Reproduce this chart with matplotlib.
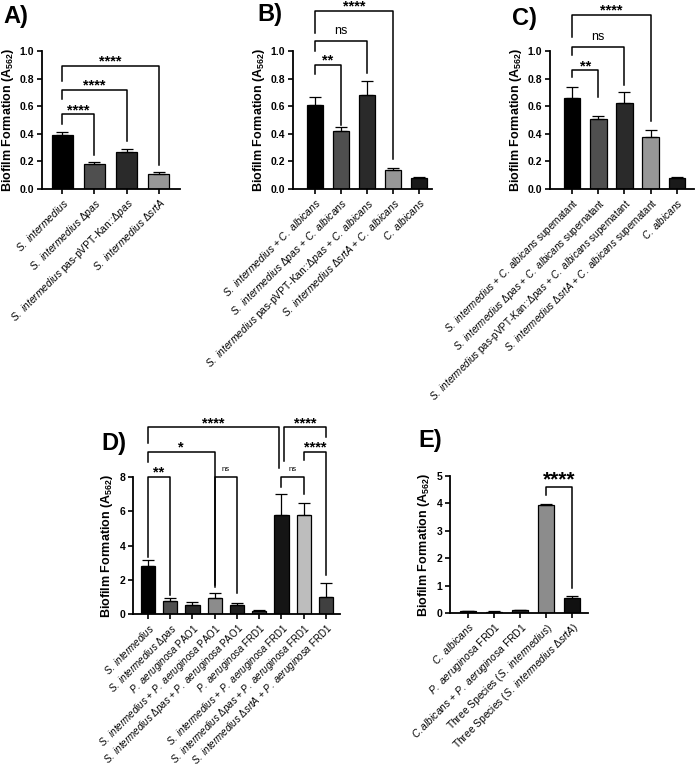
import matplotlib
matplotlib.use('Agg')
import matplotlib.pyplot as plt
import numpy as np

plt.rcParams['font.family'] = ['Liberation Sans', 'DejaVu Sans']
plt.rcParams['mathtext.fontset'] = 'custom'
plt.rcParams['mathtext.rm'] = 'Liberation Sans'
plt.rcParams['mathtext.it'] = 'Liberation Sans:italic'
plt.rcParams['mathtext.bf'] = 'Liberation Sans:bold'

# ---- data ----
a_labels = ["S. intermedius", "S. intermedius Δpas", "S. intermedius pas-pVPT-Kan::Δpas",
            "S. intermedius ΔsrtA"]
a_vals = [0.39, 0.18, 0.27, 0.11]
a_err = [0.025, 0.015, 0.02, 0.015]

b_labels = ["S. intermedius + C. albicans", "S. intermedius Δpas + C. albicans",
            "S. intermedius pas-pVPT-Kan::Δpas + C. albicans",
            "S. intermedius ΔsrtA + C. albicans", "C. albicans"]
b_vals = [0.61, 0.42, 0.68, 0.14, 0.08]
b_err = [0.055, 0.03, 0.10, 0.01, 0.004]

c_labels = ["S. intermedius + C. albicans supernatant",
            "S. intermedius Δpas + C. albicans supernatant",
            "S. intermedius pas-pVPT-Kan::Δpas + C. albicans supernatant",
            "S. intermedius ΔsrtA + C. albicans supernatant", "C. albicans"]
c_vals = [0.66, 0.51, 0.62, 0.38, 0.08]
c_err = [0.08, 0.02, 0.08, 0.05, 0.005]

d_labels = ["S. intermedius", "S. intermedius Δpas", "P. aeruginosa PAO1",
            "S. intermedius + P. aeruginosa PAO1", "S. intermedius Δpas + P. aeruginosa PAO1",
            "P. aeruginosa FRD1", "S. intermedius + P. aeruginosa FRD1",
            "S. intermedius Δpas + P. aeruginosa FRD1", "S. intermedius ΔsrtA + P. aeruginosa FRD1"]
d_vals = [2.8, 0.75, 0.5, 0.95, 0.55, 0.2, 5.8, 5.8, 1.0]
d_err = [0.33, 0.2, 0.18, 0.25, 0.1, 0.05, 1.2, 0.7, 0.8]

e_labels = ["C. albicans", "P. aeruginosa FRD1", "C.albicans + P. aeruginosa FRD1",
            "Three Species (S. intermedius)", "Three Species (S. intermedius ΔsrtA)"]
e_vals = [0.08, 0.05, 0.10, 3.95, 0.55]
e_err = [0.01, 0.01, 0.02, 0.03, 0.08]

# brackets: (left bar, right bar, y, left leg end, right leg end, text)
a_sig = [(0, 1, 0.54, 0.47, 0.25, '****'), (0, 2, 0.72, 0.65, 0.345, '****'),
         (0, 3, 0.89, 0.78, 0.175, '****')]
b_sig = [(0, 1, 0.90, 0.83, 0.465, '**'), (0, 2, 1.07, 1.0, 0.84, 'ns'),
         (0, 3, 1.29, 1.13, 0.22, '****')]
c_sig = [(0, 1, 0.86, 0.81, 0.665, '**'), (0, 2, 1.03, 0.97, 0.754, 'ns'),
         (0, 3, 1.26, 1.10, 0.49, '****')]
d_sig = [(0, 1, 8.0, 3.3, 1.1, '**'), (0, 3, 9.47, 8.9, 1.7, '*'),
         (3, 4, 8.0, 1.6, 1.2, 'ns'), (0, 5.88, 10.9, 10.0, 8.5, '****'),
         (6, 7, 8.0, 7.4, 7.0, 'ns'), (6.1, 8, 10.9, 8.95, 10.35, '****'),
         (7, 8, 9.47, 9.0, 2.3, '****')]
e_sig = [(3, 4, 4.6, 4.3, 0.9, '****')]

W, H = 696, 772
fig = plt.figure(figsize=(W / 100, H / 100), dpi=100)


def fmt(s):
    for name in ["S. intermedius", "C. albicans", "C.albicans", "P. aeruginosa", "ΔsrtA", "Δpas"]:
        s = s.replace(name, "$\\it{" + name.replace(" ", "\\ ") + "}$")
    return s


def panel(px, x1, ytop, y0, labels, vals, errs, colors, ylim, yticks, ytl, xlim, width, sig,
          star_size=10.5, ns_size=9, lab_size=7.4):
    ax = fig.add_axes([px / W, 1 - y0 / H, (x1 - px) / W, (y0 - ytop) / H])
    x = np.arange(len(vals))
    ax.bar(x, vals, width=width, color=colors, edgecolor='black', linewidth=0.9, zorder=2)
    ax.errorbar(x, vals, yerr=[np.zeros(len(vals)), errs], fmt='none', ecolor='black',
                elinewidth=0.9, capsize=width * 7, capthick=0.9, zorder=3)
    ax.set_xlim(*xlim)
    ax.set_ylim(*ylim)
    ax.set_yticks(yticks)
    ax.set_yticklabels(ytl, fontsize=7.5, fontweight='bold')
    ax.set_xticks(x)
    ax.set_xticklabels([fmt(l) for l in labels], rotation=45, ha='right',
                       rotation_mode='anchor', fontsize=lab_size)
    for s in ['top', 'right']:
        ax.spines[s].set_visible(False)
    for s in ['left', 'bottom']:
        ax.spines[s].set_linewidth(1.3)
    ax.tick_params(width=1.2, length=3.5, pad=2)
    ax.set_ylabel(r"Biofilm Formation (A$_{\mathbf{562}}$)", fontsize=9, fontweight='bold',
                  labelpad=3)
    for (i, j, yb, yl, yr, t) in sig:
        ax.plot([i, i, j, j], [yl, yb, yb, yr], color='black', lw=1.1, clip_on=False, zorder=4)
        if t == 'ns':
            ax.text((i + j) / 2, yb + (ylim[1] * 0.03), t, ha='center', va='bottom',
                    fontsize=ns_size, clip_on=False)
        else:
            ax.text((i + j) / 2, yb - ylim[1] * 0.02, t, ha='center', va='bottom',
                    fontsize=star_size, fontweight='bold', clip_on=False)
    return ax


tl01 = ['0.0', '0.2', '0.4', '0.6', '0.8', '1.0']
t01 = [0, 0.2, 0.4, 0.6, 0.8, 1.0]

panel(42, 180, 51, 189, a_labels, a_vals, a_err,
      ['#000000', '#4f4f4f', '#2a2a2a', '#979797'],
      (0, 1.0), t01, tl01, (-0.62, 3.65), 0.65, a_sig)

panel(293, 432, 51, 189, b_labels, b_vals, b_err,
      ['#000000', '#4f4f4f', '#2a2a2a', '#979797', '#1a1a1a'],
      (0, 1.0), t01, tl01, (-0.85, 4.5), 0.64, b_sig)

panel(550, 694, 51, 189, c_labels, c_vals, c_err,
      ['#000000', '#4f4f4f', '#2a2a2a', '#979797', '#1a1a1a'],
      (0, 1.0), t01, tl01, (-0.84, 4.65), 0.64, c_sig, lab_size=7.1)

panel(133, 340, 477, 614, d_labels, d_vals, d_err,
      ['#000000', '#4f4f4f', '#2a2a2a', '#8c8c8c', '#1f1f1f', '#3a3a3a', '#151515', '#bdbdbd',
       '#404040'],
      (0, 8), [0, 2, 4, 6, 8], ['0', '2', '4', '6', '8'], (-0.67, 8.63), 0.64, d_sig,
      star_size=10.5, ns_size=5.5, lab_size=7.0)

panel(450, 588, 476, 613, e_labels, e_vals, e_err,
      ['#111111', '#555555', '#2a2a2a', '#8c8c8c', '#111111'],
      (0, 5), [0, 1, 2, 3, 4, 5], ['0', '1', '2', '3', '4', '5'], (-0.69, 4.62), 0.6, e_sig,
      star_size=15)

for lab, px, py in [('A)', 3, 17), ('B)', 257, 15), ('C)', 512, 18), ('D)', 101, 443),
                    ('E)', 418, 441)]:
    fig.text(px / W, 1 - py / H, lab, fontsize=17, fontweight='bold', va='center', ha='left')

fig.savefig('out.png', dpi=100)
